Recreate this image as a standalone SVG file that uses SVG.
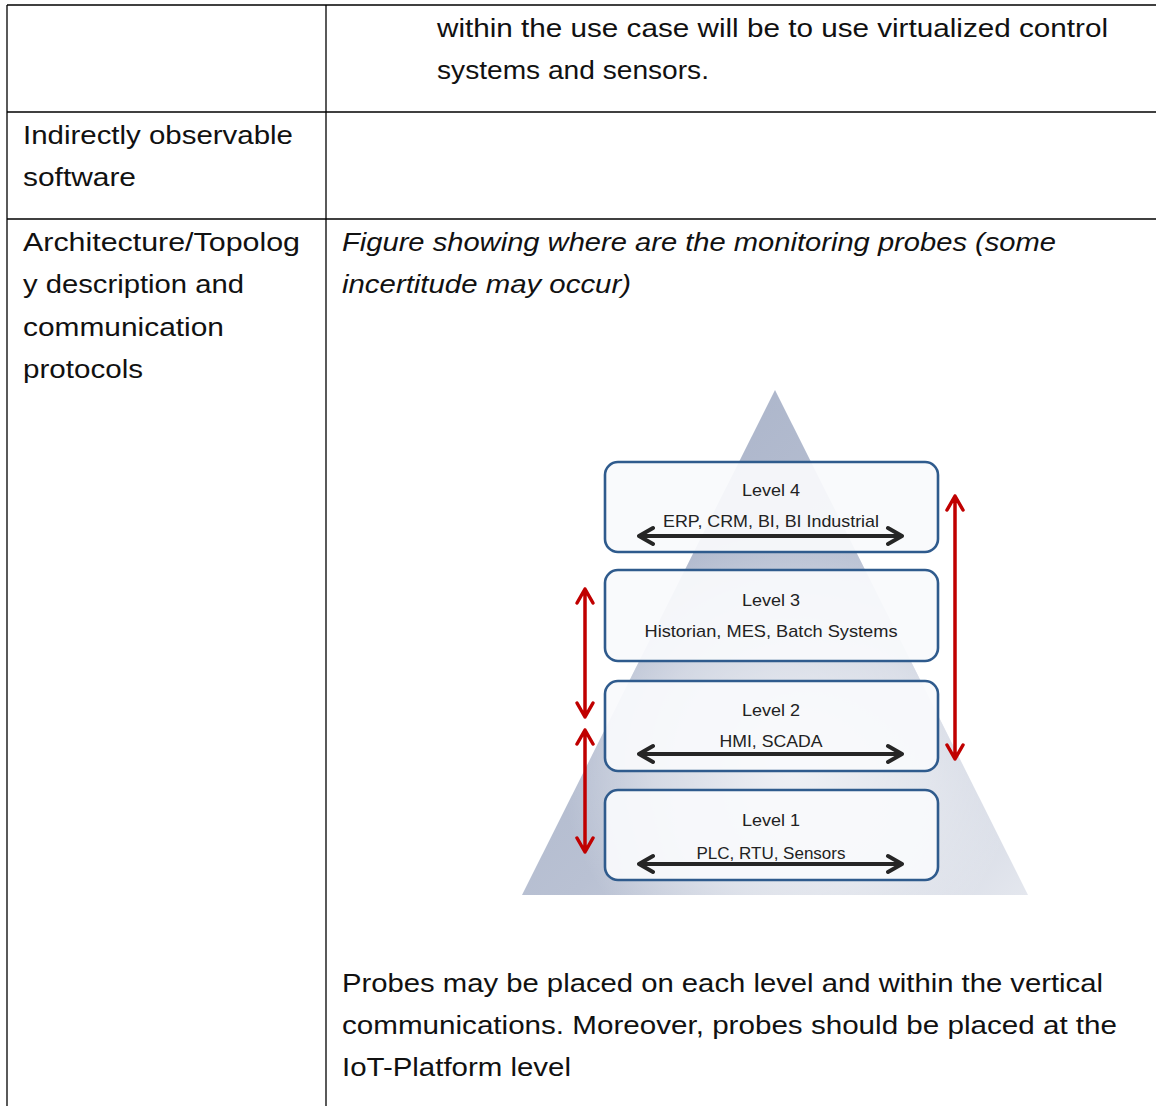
<svg xmlns="http://www.w3.org/2000/svg" width="1156" height="1106" viewBox="0 0 1156 1106">
<defs>
<style>
.t{font-family:"Liberation Sans",Arial,sans-serif;font-size:25px;fill:#111}
.i{font-style:italic}
.lbl{font-family:"Liberation Sans",Arial,sans-serif;font-size:17px;fill:#222;text-anchor:middle}
.grid{stroke:#000;stroke-width:1.3;fill:none}
.box{fill:#f9fafc;fill-opacity:0.93;stroke:#2f5b8d;stroke-width:2.6}
.harr{stroke:#262626;stroke-width:4;fill:none;stroke-linecap:round;stroke-linejoin:round}
.varr{stroke:#c00000;stroke-width:3.5;fill:none;stroke-linecap:round;stroke-linejoin:round}
</style>
<linearGradient id="pyr" x1="0" y1="0" x2="1" y2="1">
<stop offset="0" stop-color="#a5afc6"/>
<stop offset="0.55" stop-color="#b9c1d3"/>
<stop offset="1" stop-color="#e4e7ee"/>
</linearGradient>
<radialGradient id="glow" gradientUnits="userSpaceOnUse" cx="790" cy="760" r="230">
<stop offset="0" stop-color="#ffffff" stop-opacity="0.75"/>
<stop offset="0.6" stop-color="#ffffff" stop-opacity="0.4"/>
<stop offset="1" stop-color="#ffffff" stop-opacity="0"/>
</radialGradient>
</defs>
<rect width="1156" height="1106" fill="#fff"/>
<g id="table">
<line class="grid" x1="7" y1="5" x2="1156" y2="5"/>
<line class="grid" x1="7" y1="112" x2="1156" y2="112"/>
<line class="grid" x1="7" y1="219" x2="1156" y2="219"/>
<line class="grid" x1="7" y1="5" x2="7" y2="1106"/>
<line class="grid" x1="326" y1="5" x2="326" y2="1106"/>
</g>
<g id="cell-text">
<text class="t" x="437" y="37" textLength="671" lengthAdjust="spacingAndGlyphs">within the use case will be to use virtualized control</text>
<text class="t" x="437" y="79" textLength="272" lengthAdjust="spacingAndGlyphs">systems and sensors.</text>
<text class="t" x="23" y="144" textLength="270" lengthAdjust="spacingAndGlyphs">Indirectly observable</text>
<text class="t" x="23" y="186" textLength="113" lengthAdjust="spacingAndGlyphs">software</text>
<text class="t" x="23" y="251" textLength="277" lengthAdjust="spacingAndGlyphs">Architecture/Topolog</text>
<text class="t" x="23" y="293" textLength="221" lengthAdjust="spacingAndGlyphs">y description and</text>
<text class="t" x="23" y="336" textLength="201" lengthAdjust="spacingAndGlyphs">communication</text>
<text class="t" x="23" y="378" textLength="120" lengthAdjust="spacingAndGlyphs">protocols</text>
<text class="t i" x="342" y="251" textLength="714" lengthAdjust="spacingAndGlyphs">Figure showing where are the monitoring probes (some</text>
<text class="t i" x="342" y="293" textLength="289" lengthAdjust="spacingAndGlyphs">incertitude may occur)</text>
<text class="t" x="342" y="992" textLength="761" lengthAdjust="spacingAndGlyphs">Probes may be placed on each level and within the vertical</text>
<text class="t" x="342" y="1034" textLength="775" lengthAdjust="spacingAndGlyphs">communications. Moreover, probes should be placed at the</text>
<text class="t" x="342" y="1076" textLength="229" lengthAdjust="spacingAndGlyphs">IoT-Platform level</text>
</g>
<g id="pyramid">
<polygon points="775,390 522,895 1028,895" fill="url(#pyr)"/>
<polygon points="775,390 522,895 1028,895" fill="url(#glow)"/>
</g>
<g id="level4">
<rect class="box" x="605" y="462" width="333" height="90" rx="13"/>
<text class="lbl" x="771" y="496" textLength="58" lengthAdjust="spacingAndGlyphs">Level 4</text>
<text class="lbl" x="771" y="527" textLength="216" lengthAdjust="spacingAndGlyphs">ERP, CRM, BI, BI Industrial</text>
</g>
<g id="level3">
<rect class="box" x="605" y="570" width="333" height="91" rx="13"/>
<text class="lbl" x="771" y="606" textLength="58" lengthAdjust="spacingAndGlyphs">Level 3</text>
<text class="lbl" x="771" y="637" textLength="253" lengthAdjust="spacingAndGlyphs">Historian, MES, Batch Systems</text>
</g>
<g id="level2">
<rect class="box" x="605" y="681" width="333" height="90" rx="13"/>
<text class="lbl" x="771" y="716" textLength="58" lengthAdjust="spacingAndGlyphs">Level 2</text>
<text class="lbl" x="771" y="747" textLength="103" lengthAdjust="spacingAndGlyphs">HMI, SCADA</text>
</g>
<g id="level1">
<rect class="box" x="605" y="790" width="333" height="90" rx="13"/>
<text class="lbl" x="771" y="826" textLength="58" lengthAdjust="spacingAndGlyphs">Level 1</text>
<text class="lbl" x="771" y="859" textLength="149" lengthAdjust="spacingAndGlyphs">PLC, RTU, Sensors</text>
</g>
<g id="connectors">
<path class="harr" d="M639,536 H902 M653,528 L639,536 L653,544 M888,528 L902,536 L888,544"/>
<path class="harr" d="M639,754 H902 M653,746 L639,754 L653,762 M888,746 L902,754 L888,762"/>
<path class="harr" d="M639,864 H902 M653,856 L639,864 L653,872 M888,856 L902,864 L888,872"/>
<path class="varr" d="M585,589 V717 M577,603 L585,589 L593,603 M577,703 L585,717 L593,703"/>
<path class="varr" d="M585,730 V852 M577,744 L585,730 L593,744 M577,838 L585,852 L593,838"/>
<path class="varr" d="M955,496 V759 M947,510 L955,496 L963,510 M947,745 L955,759 L963,745"/>
</g>
</svg>
